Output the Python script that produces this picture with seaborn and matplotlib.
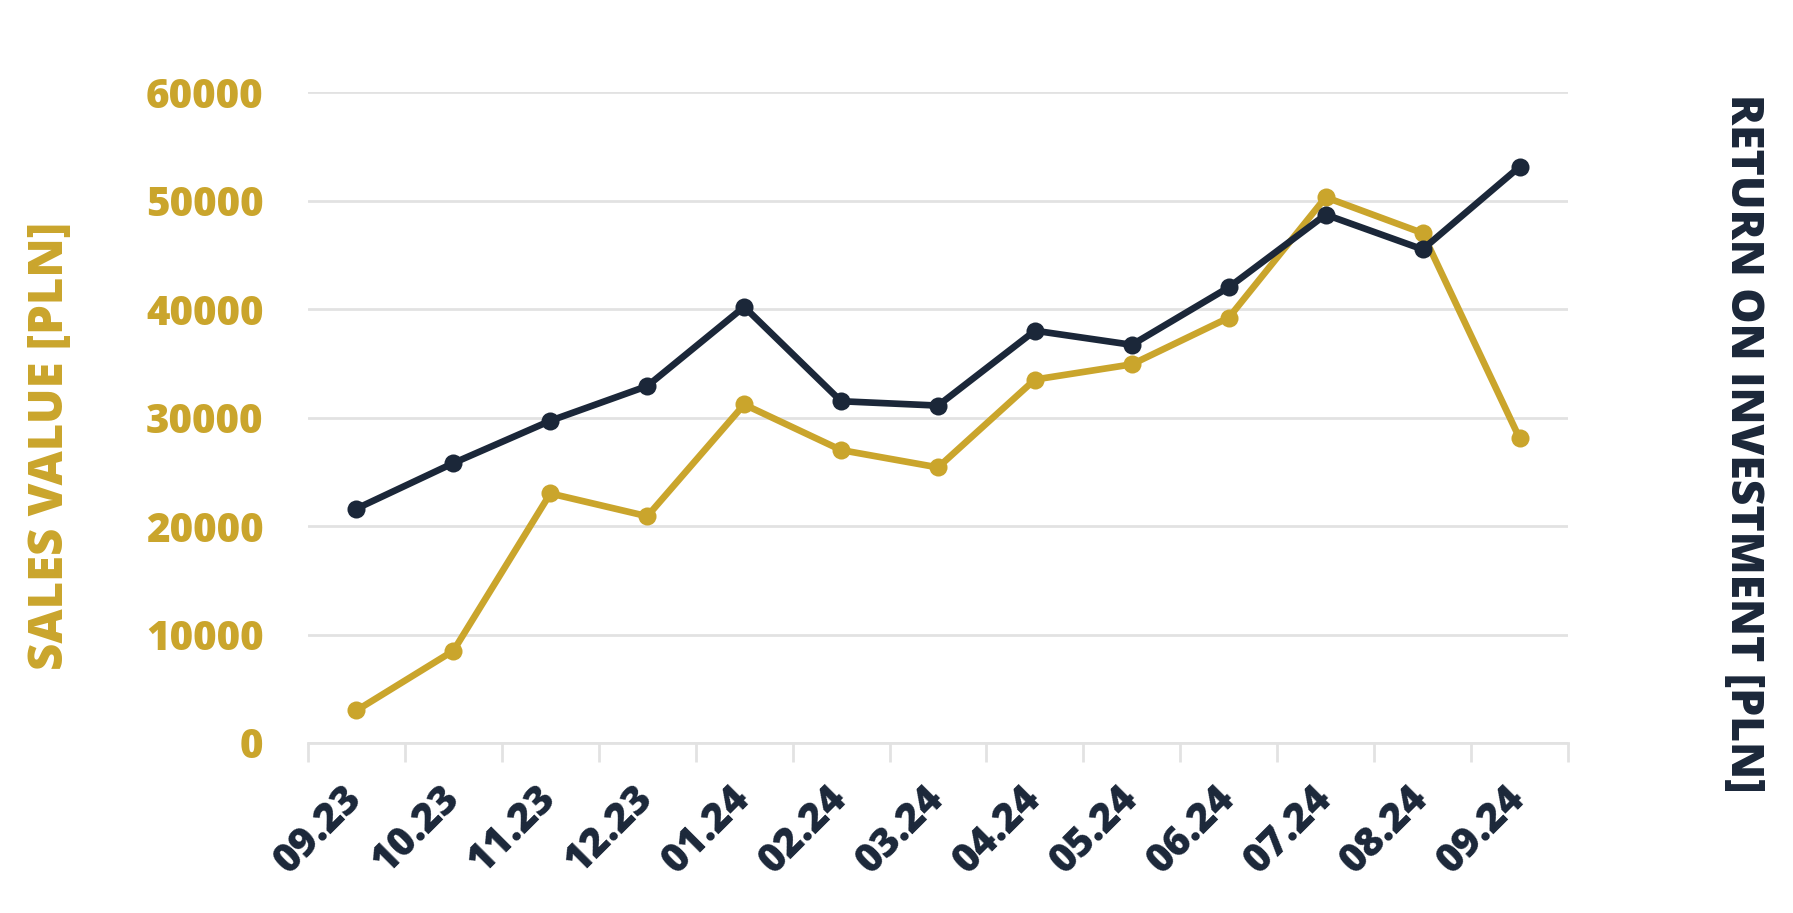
import pandas as pd
import seaborn as sns
import matplotlib.pyplot as plt
import numpy as np

months = ["09.23", "10.23", "11.23", "12.23", "01.24", "02.24", "03.24",
          "04.24", "05.24", "06.24", "07.24", "08.24", "09.24"]
sales_value = [3000, 8500, 23000, 20900, 31200, 27000, 25400,
               33500, 34900, 39200, 50300, 47000, 28100]
roi_value = [21600, 25800, 29700, 32900, 40200, 31500, 31100,
             38000, 36700, 42000, 48700, 45500, 53100]
y_ticks = [0, 10000, 20000, 30000, 40000, 50000, 60000]

GOLD = "#CAA52C"
NAVY = "#1B2739"
GRID = "#E2E2E2"

df = pd.DataFrame({"month": months, "sales": sales_value, "roi": roi_value})
df["pos"] = np.arange(len(months))

sns.set_style("white")
plt.rcParams["font.family"] = ["Open Sans", "DejaVu Sans"]
W = 800  # extra bold

fig = plt.figure(figsize=(17.93, 9.13), dpi=100)
ax = fig.add_axes([0.1718, 0.1862, 0.7027, 0.713])
ax2 = ax.twinx()

sns.lineplot(data=df, x="pos", y="sales", ax=ax, color=GOLD, linewidth=4.8,
             marker="o", markersize=13, markeredgewidth=0, zorder=3)
sns.lineplot(data=df, x="pos", y="roi", ax=ax2, color=NAVY, linewidth=4.8,
             marker="o", markersize=13, markeredgewidth=0, zorder=4)

for a in (ax, ax2):
    a.set_ylim(0, 60000)
    a.set_xlim(-0.5, len(months) - 0.5)
    a.set_xlabel("")
    a.set_ylabel("")
    for s in a.spines.values():
        s.set_visible(False)

ax.set_yticks(y_ticks)
ax.set_yticklabels([str(v) for v in y_ticks], color=GOLD, fontsize=29, fontweight=W)
ax.tick_params(axis="y", length=0, pad=32)
ax.yaxis.grid(True, color=GRID, linewidth=2)
ax.set_axisbelow(True)
ax.spines["bottom"].set_visible(True)
ax.spines["bottom"].set_color(GRID)
ax.spines["bottom"].set_linewidth(2)

ax.set_xticks(df["pos"])
ax.set_xticklabels(months, rotation=45, ha="right", va="center",
                   rotation_mode="anchor", color=NAVY, fontsize=29, fontweight=W)
ax.tick_params(axis="x", which="major", length=0, pad=36)
ax.set_xticks(np.arange(-0.5, len(months)), minor=True)
ax.tick_params(axis="x", which="minor", bottom=True, direction="out",
               length=14, width=2, color=GRID)

ax2.set_yticks([])

fig.text(0.0284, 0.5115, "SALES VALUE [PLN]", rotation=90, ha="center", va="center",
         color=GOLD, fontsize=34, fontweight=W)
fig.text(0.9716, 0.514, "RETURN ON INVESTMENT [PLN]", rotation=270, ha="center", va="center",
         color=NAVY, fontsize=32, fontweight=W)

fig.savefig("out.png", dpi=100, facecolor="white")
